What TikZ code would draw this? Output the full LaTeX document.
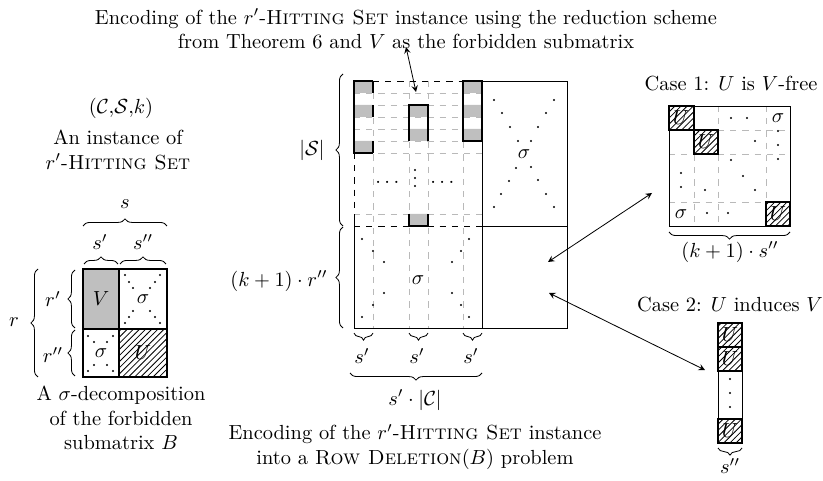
\documentclass[tikz,border=0pt]{standalone}
\usepackage{amsmath}
\usepackage{amsfonts}
\usepackage{tikz}
\usetikzlibrary{decorations.pathreplacing, patterns, arrows}
\tikzstyle{arrow} = [thin,<->,>=stealth]
\tikzstyle{brc} = [decorate,decoration={brace,amplitude=3.5pt}]
\tikzstyle{thickln} = [line width=1.2pt]
\tikzstyle{griddash} = [gray!55,dashed]
\tikzstyle{ucell} = [pattern=north east lines,line width=1.2pt]

\begin{document}
\begin{tikzpicture}[x=0.49pt,y=-0.49pt]
	\useasboundingbox (0,0) rectangle (823,481);

	% the forbidden submatrix B
	\node (inst) at (121,108) {$(\mathcal{C},\!\mathcal{S},\!k)$};
	\node[align=center] (instname) at (118,150) {An instance of\\$r'$-\textsc{Hitting Set}};
	\fill[gray!50] (83,269) rectangle (119,329);
	\node (bv) at (101,299) {$V$};
	\node (bsa) at (143,299) {$\sigma$};
	\node (bsb) at (101,353) {$\sigma$};
	\node (bu) at (143,353) {$U$};
	\draw[ucell] (119,329) rectangle (167,377);
	\draw[thickln] (83,269) rectangle (167,377) (119,269) -- (119,377) (83,329) -- (167,329);
	\foreach \p in {(125,275),(129,282),(133,288),(133,311),(129,317),(125,323),(160,275),(155,282),(150,288),(150,311),(155,317),(160,323),(88,336),(94,342),(113,336),(107,342),(88,371),(94,365),(113,371),(107,365)}
		\fill \p circle (0.5pt);
	\draw[brc] (83,226) -- (167,226);
	\node (ls) at (125,204) {$s$};
	\draw[brc] (84,264) -- (118,264);
	\draw[brc] (120,264) -- (166,264);
	\node (lsa) at (100,242) {$s'$};
	\node (lsb) at (143,242) {$s''$};
	\draw[brc] (75,328) -- (75,270);
	\draw[brc] (75,376) -- (75,330);
	\node (lra) at (53,299) {$r'$};
	\node (lrb) at (53,355) {$r''$};
	\draw[brc] (38,377) -- (38,269);
	\node (lr) at (14,322) {$r$};
	\node[align=center] (decomp) at (121,418) {A $\sigma$-decomposition\\of the forbidden\\submatrix $B$};

	% the encoding
	\node[align=center] (toptext) at (406,29) {Encoding of the $r'$-\textsc{Hitting Set} instance using the reduction scheme\\from Theorem 6 and $V$ as the forbidden submatrix};
	\draw[griddash] (373,81) -- (373,328) (409,81) -- (409,328) (428,81) -- (428,328) (463,81) -- (463,328);
	\foreach \y in {93,105,117,129,141,153,214}
		\draw[griddash] (354,\y) -- (482,\y);
	\fill[gray!50] (354,81) rectangle (373,93) (354,105) rectangle (373,117) (354,141) rectangle (373,153);
	\fill[gray!50] (409,105) rectangle (428,117) (409,129) rectangle (428,141) (409,214) rectangle (428,226);
	\fill[gray!50] (463,81) rectangle (482,93) (463,105) rectangle (482,117) (463,129) rectangle (482,141);
	\draw[dashed] (373,81) -- (463,81) (354,153) -- (354,214) (354,226) -- (482,226);
	\draw (482,141) -- (482,328) (482,81) -- (567,81) -- (567,328) -- (354,328) -- (354,214) (482,226) -- (567,226);
	\draw[thickln] (373,81) -- (354,81) -- (354,153) -- (373,153) (373,81) -- (373,93) (373,105) -- (373,117) (373,141) -- (373,153);
	\draw[thickln] (409,141) -- (409,105) -- (428,105) -- (428,141) (409,214) -- (409,226) -- (428,226) -- (428,214);
	\draw[thickln] (463,81) rectangle (482,141);
	\node[inner sep=0pt] (hda) at (389,183) {$\cdots$};
	\node[inner sep=0pt] (hdb) at (444,183) {$\cdots$};
	\node (esa) at (418,280) {$\sigma$};
	\node (esb) at (524,154) {$\sigma$};
	\foreach \p in {(415,170),(415,178),(415,186),(362,239),(373,251),(384,262),(384,293),(373,305),(362,317),(469,239),(461,251),(452,262),(452,293),(461,305),(469,317),(494,100),(502,113),(510,127),(518,141),(516,168),(509,181),(501,194),(494,207),(554,100),(546,113),(538,127),(531,141),(531,167),(538,180),(546,194),(554,207)}
		\fill \p circle (0.5pt);
	\draw[brc] (343,226) -- (343,74);
	\node (rs) at (312,150) {$|\mathcal{S}|$};
	\draw[brc] (343,328) -- (343,227);
	\node (rk) at (279,281) {$(k+1)\cdot r''$};
	\draw[brc] (373,333) -- (354,333);
	\draw[brc] (428,333) -- (409,333);
	\draw[brc] (482,333) -- (463,333);
	\node (csa) at (362,356) {$s'$};
	\node (csb) at (417,356) {$s'$};
	\node (csc) at (471,356) {$s'$};
	\draw[brc] (482,373) -- (350,373);
	\node (cc) at (415,400) {$s'\cdot|\mathcal{C}|$};
	\node[align=center] (bottext) at (415,447) {Encoding of the $r'$-\textsc{Hitting Set} instance\\into a \textsc{Row Deletion}$(B)$ problem};

	% case 1
	\node (caseone) at (731,84) {Case 1: $U$ is $V$-free};
	\draw[griddash] (694,106) -- (694,226) (718,106) -- (718,226) (766,106) -- (766,226);
	\draw[griddash] (669,130) -- (790,130) (669,154) -- (790,154) (669,202) -- (790,202);
	\draw (669,106) rectangle (790,226);
	\node (ua) at (681,118) {$U$};
	\node (ub) at (706,142) {$U$};
	\node (uc) at (778,214) {$U$};
	\draw[ucell] (669,106) rectangle (694,130);
	\draw[ucell] (694,130) rectangle (718,154);
	\draw[ucell] (766,202) rectangle (790,226);
	\node (oa) at (778,118) {$\sigma$};
	\node (ob) at (681,214) {$\sigma$};
	\foreach \p in {(731,118),(747,118),(778,131),(778,145),(778,159),(755,141),(731,160),(743,176),(755,190),(681,173),(681,187),(705,190),(707,213),(728,213)}
		\fill \p circle (0.5pt);
	\draw[brc] (790,232) -- (669,232);
	\node (ks) at (730,252) {$(k+1)\cdot s''$};

	% case 2
	\node (casetwo) at (730,305) {Case 2: $U$ induces $V$};
	\draw (718,371) rectangle (742,419);
	\node (ud) at (730,335) {$U$};
	\node (ue) at (730,359) {$U$};
	\node (uf) at (730,431) {$U$};
	\draw[ucell] (718,323) rectangle (742,347);
	\draw[ucell] (718,347) rectangle (742,371);
	\draw[ucell] (718,419) rectangle (742,443);
	\foreach \p in {(730,379),(730,393),(730,407)}
		\fill \p circle (0.5pt);
	\draw[brc] (742,448) -- (718,448);
	\node (ss) at (730,466) {$s''$};

	% links
	\coordinate (pv) at (406,47);
	\coordinate (pcell) at (416,92);
	\coordinate (pone) at (652,193);
	\coordinate (pa) at (548,262);
	\coordinate (ptwo) at (705,370);
	\coordinate (pb) at (549,293);
	\draw[arrow] (pv) -- (pcell);
	\draw[arrow] (pone) -- (pa);
	\draw[arrow] (ptwo) -- (pb);
\end{tikzpicture}
\end{document}
